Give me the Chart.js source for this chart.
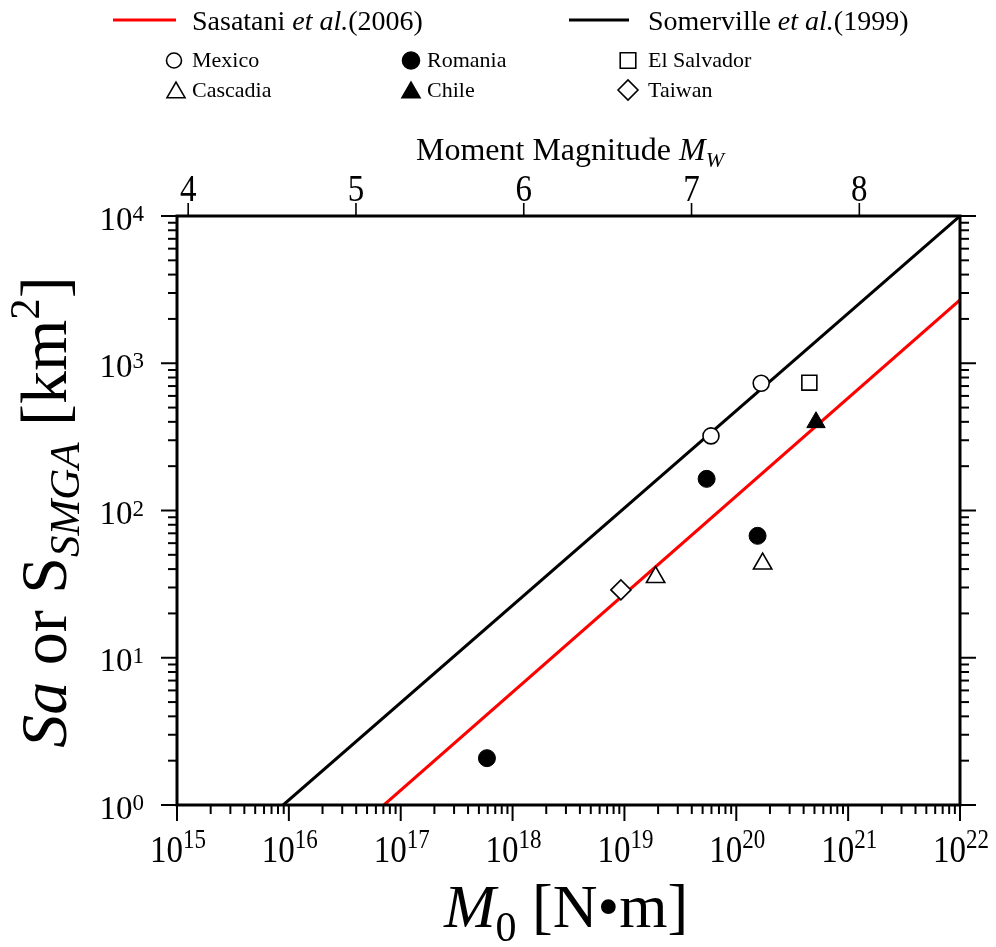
<!DOCTYPE html>
<html><head><meta charset="utf-8">
<script src="https://cdn.jsdelivr.net/npm/chart.js@4.4.1/dist/chart.umd.min.js"></script>
<style>html,body{margin:0;padding:0;background:#fff;}#wrap{position:relative;width:996px;height:947px;}</style>
</head><body><div id="wrap"><canvas id="c" width="996" height="947"></canvas></div>
<script>
// ---- axis ranges & tick labels ----
const xMin = 1e15, xMax = 1e22;
const yMin = 1, yMax = 1e4;
const xExponents = [15, 16, 17, 18, 19, 20, 21, 22];
const yExponents = [0, 1, 2, 3, 4];
const mwTicks = [4, 5, 6, 7, 8];
const mwMin = (2 / 3) * (15 - 9.1), mwMax = (2 / 3) * (22 - 9.1);

// ---- scaling relations (line endpoints) ----
const sasataniM0 = [7.08e16, 1e22];
const sasataniS = [1, 2690];
const somervilleM0 = [8.9e15, 1e22];
const somervilleS = [1, 1e4];

// ---- observed events ----
const mexicoM0 = [1.67e20, 5.94e19];
const mexicoS = [731, 321];
const romaniaM0 = [5.43e19, 1.55e20, 5.9e17];
const romaniaS = [164, 67.3, 2.08];
const elSalvadorM0 = [4.5e20];
const elSalvadorS = [738];
const chileM0 = [5.16e20];
const chileS = [397];
const cascadiaM0 = [1.9e19, 1.72e20];
const cascadiaS = [35.2, 43.5];
const taiwanM0 = [9.3e18];
const taiwanS = [28.9];

const pts = (xs, ys) => xs.map((x, i) => ({ x: x, y: ys[i] }));
const SERIF = '"Liberation Serif", "Times New Roman", serif';

function richWidth(ctx, segs) {
  let w = 0;
  segs.forEach(s => { ctx.font = s.f; w += ctx.measureText(s.t).width; });
  return w;
}
function drawRich(ctx, segs, x, y, align) {
  const w = richWidth(ctx, segs);
  let cx = align === 'center' ? x - w / 2 : (align === 'right' ? x - w : x);
  ctx.textAlign = 'left';
  ctx.textBaseline = 'alphabetic';
  segs.forEach(s => {
    ctx.font = s.f;
    ctx.fillText(s.t, cx, y + (s.dy || 0));
    cx += ctx.measureText(s.t).width;
  });
}
function powLabel(ctx, exp, x, baseY, align, fBase, fExp, raise, sy) {
  ctx.font = fBase; const wB = ctx.measureText('10').width;
  ctx.font = fExp; const wE = ctx.measureText(String(exp)).width;
  const tot = wB + wE;
  const sx = align === 'center' ? x - tot / 2 : x - tot;
  ctx.save();
  ctx.translate(sx, baseY);
  ctx.scale(1, sy);
  ctx.textAlign = 'left'; ctx.textBaseline = 'alphabetic';
  ctx.font = fBase; ctx.fillText('10', 0, 0);
  ctx.font = fExp; ctx.fillText(String(exp), wB, -raise / sy);
  ctx.restore();
}
function marker(ctx, style, x, y, r, filled) {
  ctx.beginPath();
  if (style === 'circle') {
    ctx.arc(x, y, r, 0, Math.PI * 2);
  } else if (style === 'rect') {
    const s = Math.SQRT1_2 * r;
    ctx.rect(x - s, y - s, 2 * s, 2 * s);
  } else if (style === 'triangle') {
    ctx.moveTo(x, y - r);
    ctx.lineTo(x + r * Math.sqrt(3) / 2, y + r / 2);
    ctx.lineTo(x - r * Math.sqrt(3) / 2, y + r / 2);
    ctx.closePath();
  } else if (style === 'rectRot') {
    ctx.moveTo(x - r, y); ctx.lineTo(x, y - r); ctx.lineTo(x + r, y); ctx.lineTo(x, y + r);
    ctx.closePath();
  }
  ctx.fillStyle = filled ? '#000' : '#fff';
  ctx.fill();
  ctx.strokeStyle = '#000';
  ctx.lineWidth = 1.6;
  ctx.stroke();
}

const decorPlugin = {
  id: 'decor',
  afterDraw(chart) {
    const ctx = chart.ctx;
    const xs = chart.scales.x, ys = chart.scales.y, mw = chart.scales.mw;
    const a = chart.chartArea;
    ctx.save();
    ctx.fillStyle = '#000';
    ctx.strokeStyle = '#000';
    ctx.lineCap = 'butt';

    // frame
    ctx.lineWidth = 3;
    ctx.strokeRect(a.left, a.top, a.right - a.left, a.bottom - a.top);

    // x ticks (bottom)
    ctx.lineWidth = 2;
    xExponents.forEach((e, i) => {
      const p = xs.getPixelForValue(Math.pow(10, e));
      ctx.beginPath(); ctx.moveTo(p, a.bottom); ctx.lineTo(p, a.bottom + 16); ctx.stroke();
      if (i < xExponents.length - 1) {
        for (let m = 2; m <= 9; m++) {
          const q = xs.getPixelForValue(m * Math.pow(10, e));
          ctx.beginPath(); ctx.moveTo(q, a.bottom); ctx.lineTo(q, a.bottom + 9); ctx.stroke();
        }
      }
    });
    // y ticks (left & right)
    yExponents.forEach((e, i) => {
      const p = ys.getPixelForValue(Math.pow(10, e));
      ctx.beginPath(); ctx.moveTo(a.left, p); ctx.lineTo(a.left - 16, p); ctx.stroke();
      ctx.beginPath(); ctx.moveTo(a.right, p); ctx.lineTo(a.right + 16, p); ctx.stroke();
      if (i < yExponents.length - 1) {
        for (let m = 2; m <= 9; m++) {
          const q = ys.getPixelForValue(m * Math.pow(10, e));
          ctx.beginPath(); ctx.moveTo(a.left, q); ctx.lineTo(a.left - 9, q); ctx.stroke();
          ctx.beginPath(); ctx.moveTo(a.right, q); ctx.lineTo(a.right + 9, q); ctx.stroke();
        }
      }
    });
    // Mw ticks (top)
    ctx.lineWidth = 1.6;
    mwTicks.forEach(v => {
      const p = mw.getPixelForValue(v);
      ctx.beginPath(); ctx.moveTo(p, a.top); ctx.lineTo(p, a.top - 13); ctx.stroke();
    });

    // tick labels
    const fB = '33px ' + SERIF, fE = '23px ' + SERIF;
    xExponents.forEach(e => {
      powLabel(ctx, e, xs.getPixelForValue(Math.pow(10, e)) + 1, 862, 'center', fB, fE, 14, 1.15);
    });
    yExponents.forEach(e => {
      const p = ys.getPixelForValue(Math.pow(10, e));
      powLabel(ctx, e, 144, p + 13.5, 'right', fB, fE, 8.5, 1);
    });
    mwTicks.forEach(v => {
      const p = mw.getPixelForValue(v);
      ctx.save();
      ctx.translate(p, 201); ctx.scale(1, 1.15);
      ctx.font = fB; ctx.textAlign = 'center'; ctx.textBaseline = 'alphabetic';
      ctx.fillText(String(v), 0, 0);
      ctx.restore();
    });

    // axis titles
    drawRich(ctx, [
      { t: 'Moment Magnitude ', f: '32px ' + SERIF },
      { t: 'M', f: 'italic 32px ' + SERIF },
      { t: 'W', f: 'italic 22px ' + SERIF, dy: 7 }
    ], 570, 160, 'center');

    drawRich(ctx, [
      { t: 'M', f: 'italic 62px ' + SERIF },
      { t: '0', f: '42px ' + SERIF, dy: 14 },
      { t: ' [N\u2022m]', f: '62px ' + SERIF }
    ], 566, 927, 'center');

    ctx.save();
    ctx.translate(66, 512);
    ctx.rotate(-Math.PI / 2);
    drawRich(ctx, [
      { t: 'Sa', f: 'italic 66px ' + SERIF },
      { t: ' or S', f: '66px ' + SERIF },
      { t: 'SMGA', f: 'italic 43px ' + SERIF, dy: 13 },
      { t: ' [km', f: '66px ' + SERIF },
      { t: '2', f: '43px ' + SERIF, dy: -27 },
      { t: ']', f: '66px ' + SERIF }
    ], 0, 0, 'center');
    ctx.restore();

    // legend
    ctx.lineWidth = 3;
    ctx.strokeStyle = '#ff0000';
    ctx.beginPath(); ctx.moveTo(113, 20); ctx.lineTo(176, 20); ctx.stroke();
    ctx.strokeStyle = '#000';
    ctx.beginPath(); ctx.moveTo(569, 20); ctx.lineTo(629, 20); ctx.stroke();
    ctx.fillStyle = '#000';
    drawRich(ctx, [
      { t: 'Sasatani ', f: '28px ' + SERIF },
      { t: 'et al.', f: 'italic 28px ' + SERIF },
      { t: '(2006)', f: '28px ' + SERIF }
    ], 192, 30, 'left');
    drawRich(ctx, [
      { t: 'Somerville ', f: '28px ' + SERIF },
      { t: 'et al.', f: 'italic 28px ' + SERIF },
      { t: '(1999)', f: '28px ' + SERIF }
    ], 648, 30, 'left');

    const leg = [
      ['circle', false, 174, 60.5, 7.5, 'Mexico', 192, 67],
      ['circle', true, 411, 60.5, 8.5, 'Romania', 427, 67],
      ['rect', false, 628, 60.5, 11, 'El Salvador', 648, 67],
      ['triangle', false, 176, 92.5, 10.4, 'Cascadia', 192, 97],
      ['triangle', true, 411, 92.5, 10.4, 'Chile', 427, 97],
      ['rectRot', false, 628, 90, 10, 'Taiwan', 648, 97]
    ];
    leg.forEach(l => {
      marker(ctx, l[0], l[2], l[3], l[4], l[1]);
      ctx.fillStyle = '#000';
      ctx.font = '22px ' + SERIF; ctx.textAlign = 'left'; ctx.textBaseline = 'alphabetic';
      ctx.fillText(l[5], l[6], l[7]);
    });
    ctx.restore();
  }
};

new Chart(document.getElementById('c'), {
  type: 'scatter',
  data: {
    datasets: [
      { label: 'Sasatani et al.(2006)', type: 'line', data: pts(sasataniM0, sasataniS), borderColor: '#ff0000', borderWidth: 3, pointRadius: 0, fill: false, tension: 0, order: 2 },
      { label: 'Somerville et al.(1999)', type: 'line', data: pts(somervilleM0, somervilleS), borderColor: '#000', borderWidth: 3, pointRadius: 0, fill: false, tension: 0, order: 2 },
      { label: 'Mexico', data: pts(mexicoM0, mexicoS), pointStyle: 'circle', pointRadius: 8, backgroundColor: '#fff', borderColor: '#000', borderWidth: 1.6, order: 1 },
      { label: 'Romania', data: pts(romaniaM0, romaniaS), pointStyle: 'circle', pointRadius: 8.5, backgroundColor: '#000', borderColor: '#000', borderWidth: 1, order: 1 },
      { label: 'El Salvador', data: pts(elSalvadorM0, elSalvadorS), pointStyle: 'rect', pointRadius: 10.6, backgroundColor: '#fff', borderColor: '#000', borderWidth: 1.6, order: 1 },
      { label: 'Cascadia', data: pts(cascadiaM0, cascadiaS), pointStyle: 'triangle', pointRadius: 10.6, backgroundColor: '#fff', borderColor: '#000', borderWidth: 1.6, order: 1 },
      { label: 'Chile', data: pts(chileM0, chileS), pointStyle: 'triangle', pointRadius: 10.6, backgroundColor: '#000', borderColor: '#000', borderWidth: 1, order: 1 },
      { label: 'Taiwan', data: pts(taiwanM0, taiwanS), pointStyle: 'rectRot', pointRadius: 10, backgroundColor: '#fff', borderColor: '#000', borderWidth: 1.6, order: 1 }
    ]
  },
  options: {
    responsive: false,
    animation: false,
    devicePixelRatio: 1,
    layout: { padding: { left: 177, right: 36, top: 216, bottom: 142 } },
    plugins: { legend: { display: false }, tooltip: { enabled: false }, title: { display: false } },
    scales: {
      x: { type: 'logarithmic', min: xMin, max: xMax, display: false },
      y: { type: 'logarithmic', min: yMin, max: yMax, display: false },
      mw: { type: 'linear', axis: 'x', position: 'top', min: mwMin, max: mwMax, display: false }
    }
  },
  plugins: [decorPlugin]
});
</script>
</body></html>
